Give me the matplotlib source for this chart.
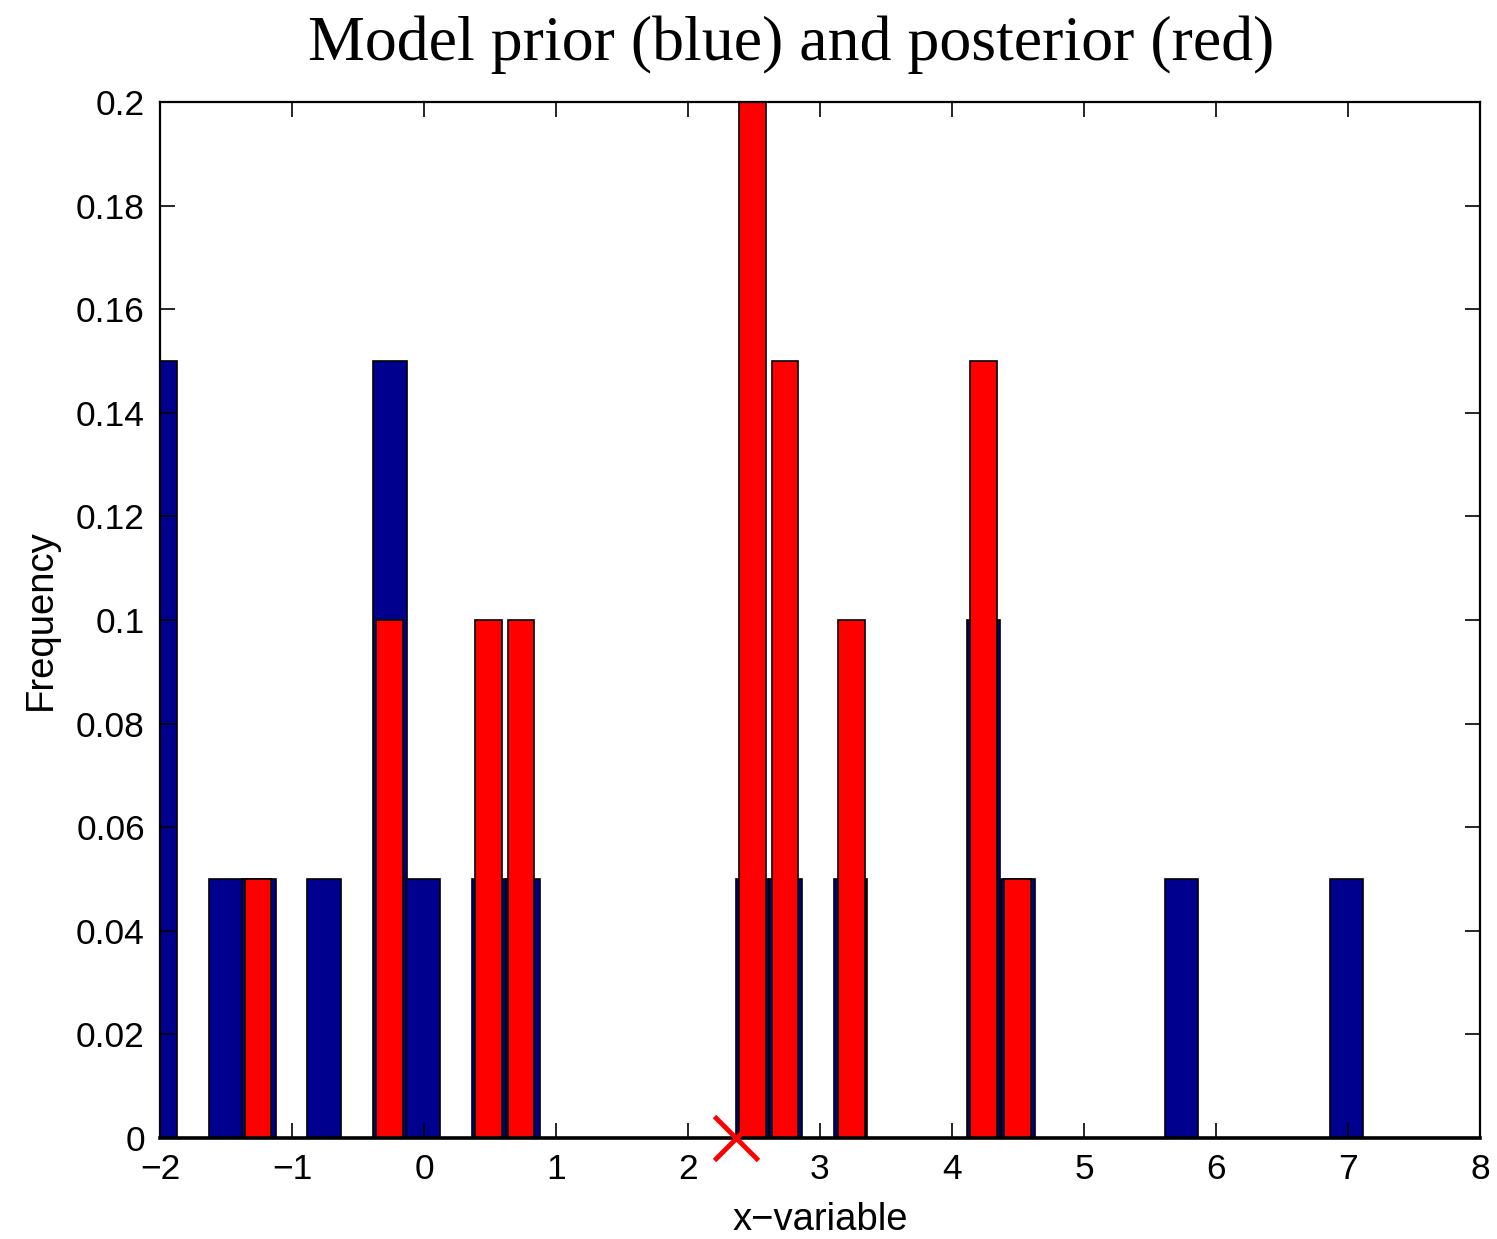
import matplotlib
matplotlib.use('Agg')
import matplotlib.pyplot as plt

# prior histogram (blue) - bin centres and frequencies
prior_x = [-2.0, -1.5, -1.25, -0.76, -0.26, -0.01, 0.49, 0.75, 2.49, 2.74,
           3.23, 4.24, 4.5, 5.74, 6.99]
prior_f = [0.15, 0.05, 0.05, 0.05, 0.15, 0.05, 0.05, 0.05, 0.05, 0.05,
           0.05, 0.1, 0.05, 0.05, 0.05]

# posterior histogram (red)
post_x = [-1.26, -0.26, 0.49, 0.735, 2.49, 2.735, 3.24, 4.24, 4.495]
post_f = [0.05, 0.1, 0.1, 0.1, 0.2, 0.15, 0.1, 0.15, 0.05]

# true value marker
true_x = 2.36

plt.rcParams['font.family'] = 'Liberation Sans'
fig = plt.figure(figsize=(14.97, 12.39), dpi=100)
ax = fig.add_axes([0.1069, 0.0815, 0.8817, 0.8362])

ax.bar(prior_x, prior_f, width=0.255, color='#00008F', edgecolor='black', linewidth=1.2)
ax.bar(post_x, post_f, width=0.2, color='#FF0000', edgecolor='black', linewidth=1.2)
ax.plot([true_x], [0], marker='x', color='#FF0000', markersize=32, mew=3.5,
        linestyle='none', clip_on=False, zorder=5)

ax.set_xlim(-2, 8)
ax.set_ylim(0, 0.2)
ax.set_xticks(range(-2, 9))
ax.set_yticks([0, 0.02, 0.04, 0.06, 0.08, 0.1, 0.12, 0.14, 0.16, 0.18, 0.2])
ax.set_yticklabels(['0', '0.02', '0.04', '0.06', '0.08', '0.1', '0.12', '0.14',
                    '0.16', '0.18', '0.2'])
ax.tick_params(direction='in', length=11, width=1.2, labelsize=25.5,
               top=True, right=True, pad=11)
for s in ax.spines.values():
    s.set_linewidth(1.6)
ax.spines['bottom'].set_linewidth(2.6)

ax.set_xlabel('x\u2212variable', fontsize=27.5, labelpad=11)
ax.set_ylabel('Frequency', fontsize=27.5, labelpad=12)
ax.set_title('Model prior (blue) and posterior (red)', fontsize=46,
             family='Liberation Serif', pad=30, x=0.478)

fig.savefig('out.png', dpi=100)
